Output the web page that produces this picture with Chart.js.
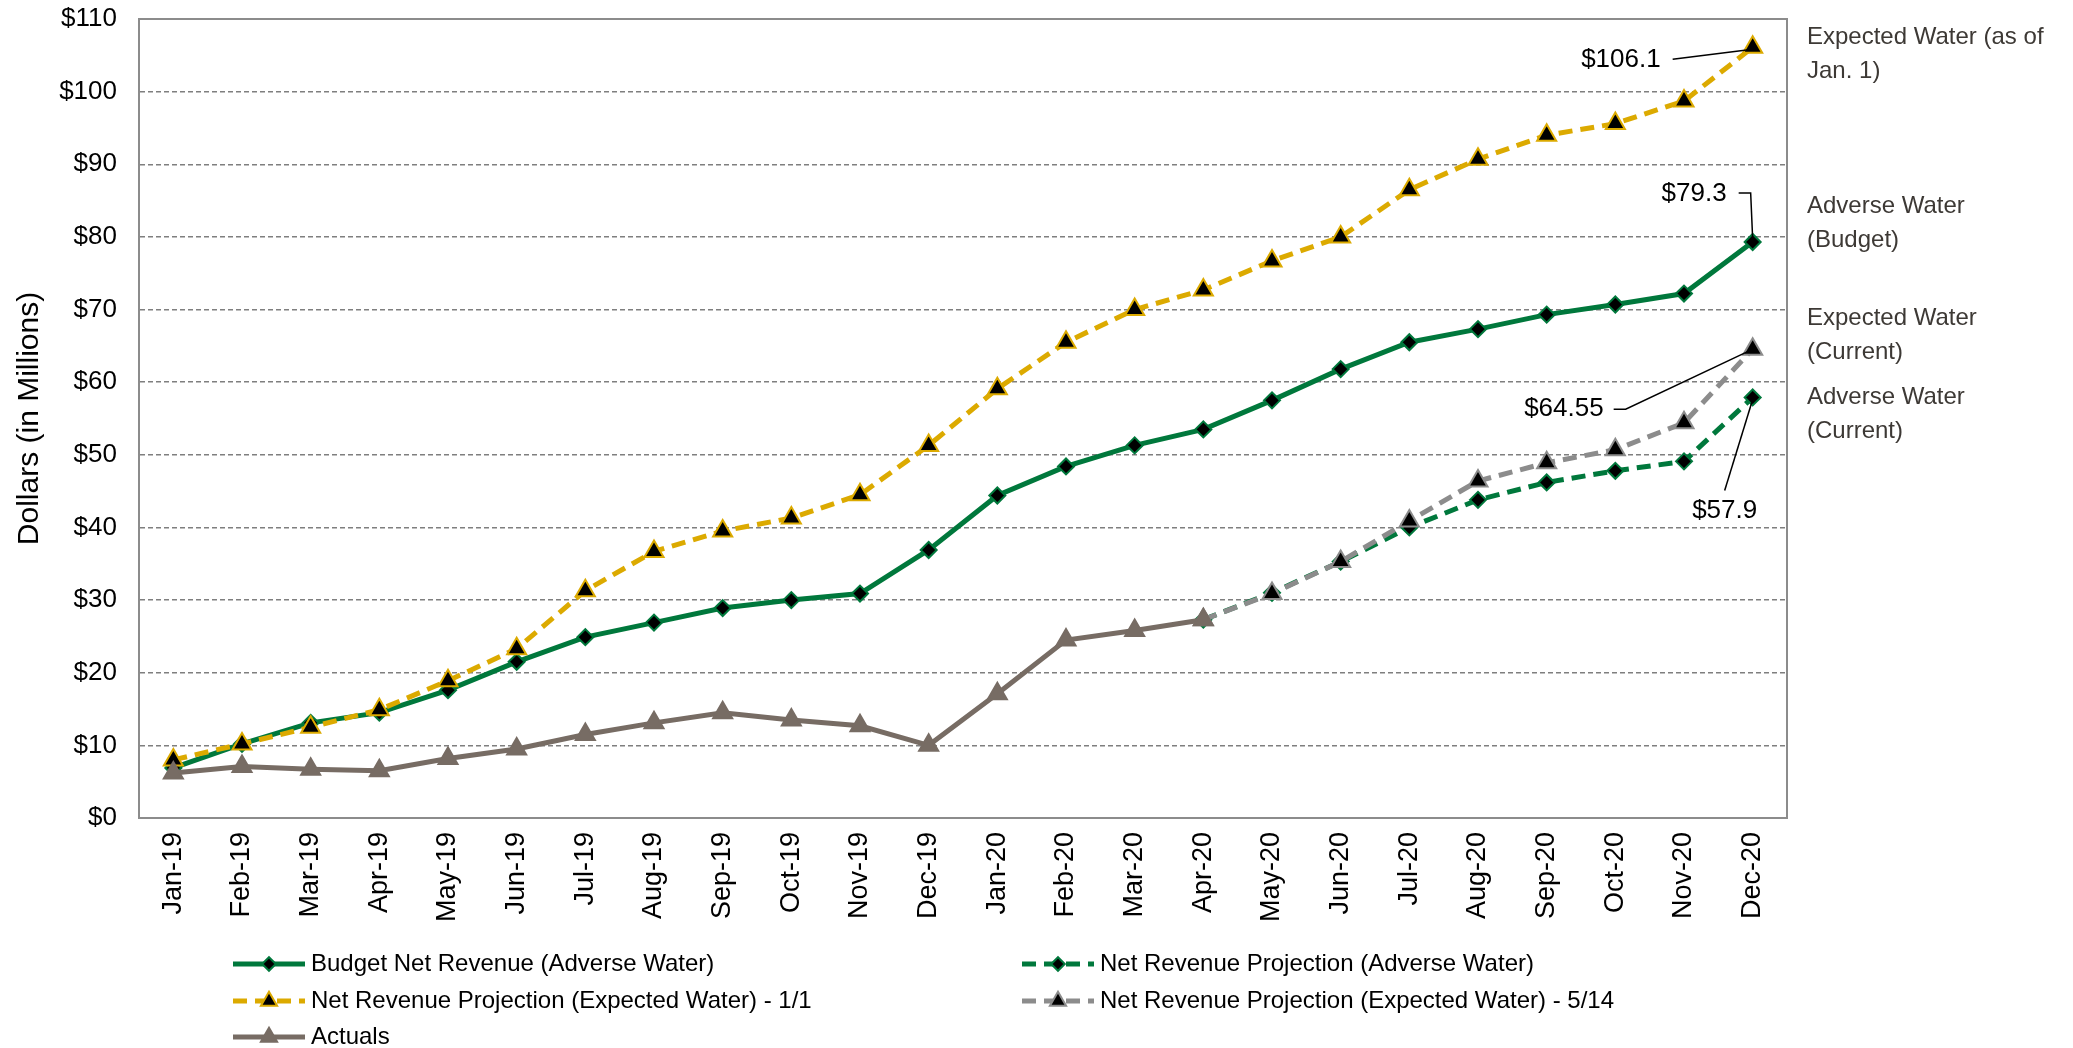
<!DOCTYPE html>
<html>
<head>
<meta charset="utf-8">
<title>Net Revenue</title>
<script src="https://cdn.jsdelivr.net/npm/chart.js@4.4.1/dist/chart.umd.min.js"></script>
<style>
    html, body { margin: 0; padding: 0; background: #fff; }
    #wrap { width: 2073px; height: 1048px; }
</style>
</head>
<body>
<div id="wrap"><canvas id="revenue-chart" width="2073" height="1048"></canvas></div>
<script>
// data (millions of $)
const months = ["Jan-19", "Feb-19", "Mar-19", "Apr-19", "May-19", "Jun-19", "Jul-19", "Aug-19",
    "Sep-19", "Oct-19", "Nov-19", "Dec-19", "Jan-20", "Feb-20", "Mar-20", "Apr-20",
    "May-20", "Jun-20", "Jul-20", "Aug-20", "Sep-20", "Oct-20", "Nov-20", "Dec-20"];

const budgetAdverse = [6.9, 10.2, 13.1, 14.5, 17.6, 21.5, 24.9, 26.9, 28.9, 30.0, 30.9, 36.9,
    44.4, 48.4, 51.3, 53.5, 57.5, 61.8, 65.5, 67.3, 69.3, 70.7, 72.2, 79.3];

const projAdverse = [null, null, null, null, null, null, null, null, null, null, null, null,
    null, null, null, 27.3, 31.0, 35.3, 40.0, 43.8, 46.2, 47.8, 49.1, 57.9];

const projExpectedJan = [8.0, 10.2, 12.5, 14.9, 18.9, 23.3, 31.3, 36.7, 39.5, 41.3, 44.5, 51.3,
    59.1, 65.5, 70.0, 72.7, 76.7, 80.0, 86.5, 90.7, 94.0, 95.6, 98.7, 106.1];

const projExpectedMay = [null, null, null, null, null, null, null, null, null, null, null, null,
    null, null, null, 27.3, 30.9, 35.3, 40.9, 46.4, 48.9, 50.7, 54.4, 64.55];

const actuals = [6.2, 7.1, 6.7, 6.5, 8.2, 9.5, 11.5, 13.1, 14.5, 13.5, 12.7, 10.0,
    17.1, 24.5, 25.8, 27.3, null, null, null, null, null, null, null, null];

const seriesNames = [
    "Budget Net Revenue (Adverse Water)",
    "Net Revenue Projection (Adverse Water)",
    "Net Revenue Projection (Expected Water) - 1/1",
    "Net Revenue Projection (Expected Water) - 5/14",
    "Actuals",
];

const sideNotes = [
    ["Expected Water (as of", "Jan. 1)"],
    ["Adverse Water", "(Budget)"],
    ["Expected Water", "(Current)"],
    ["Adverse Water", "(Current)"],
];

const GREEN = "#00783c";
const GOLD = "#dcaa00";
const BROWN = "#776c64";
const GREY = "#8c8c8c";
const FONT = '"Liberation Sans", Arial, sans-serif';

Chart.defaults.font.family = FONT;

// frame round the plot area
const frame = {
    id: "frame",
    beforeDatasetsDraw(chart) {
        const { ctx, chartArea: a } = chart;
        ctx.save();
        ctx.strokeStyle = GREY;
        ctx.lineWidth = 2;
        ctx.strokeRect(a.left, a.top, a.right - a.left, a.bottom - a.top);
        ctx.restore();
    },
};

// end value callouts + notes on the right
const callouts = {
    id: "callouts",
    afterDatasetsDraw(chart) {
        const ctx = chart.ctx;
        const last = (i) => chart.getDatasetMeta(i).data[months.length - 1];
        const val = (arr) => "$" + arr[arr.length - 1];

        ctx.save();
        ctx.strokeStyle = "#000";
        ctx.lineWidth = 1.5;
        ctx.fillStyle = "#000";
        ctx.font = "26px " + FONT;
        ctx.textBaseline = "middle";

        // $106.1
        let p = last(2);
        ctx.textAlign = "right";
        ctx.fillText(val(projExpectedJan), p.x - 92, p.y + 12);
        ctx.beginPath();
        ctx.moveTo(p.x - 80, p.y + 12);
        ctx.lineTo(p.x, p.y + 2);
        ctx.stroke();

        // $79.3
        p = last(0);
        ctx.fillText(val(budgetAdverse), p.x - 26, p.y - 48);
        ctx.beginPath();
        ctx.moveTo(p.x - 14, p.y - 49);
        ctx.lineTo(p.x - 2, p.y - 49);
        ctx.lineTo(p.x, p.y - 3);
        ctx.stroke();

        // $64.55
        p = last(3);
        ctx.fillText(val(projExpectedMay), p.x - 149, p.y + 60);
        ctx.beginPath();
        ctx.moveTo(p.x - 139, p.y + 60);
        ctx.lineTo(p.x - 127, p.y + 60);
        ctx.lineTo(p.x - 4, p.y + 2);
        ctx.stroke();

        // $57.9
        p = last(1);
        ctx.textAlign = "center";
        ctx.fillText(val(projAdverse), p.x - 28, p.y + 113);
        ctx.beginPath();
        ctx.moveTo(p.x - 28, p.y + 93);
        ctx.lineTo(p.x, p.y + 2);
        ctx.stroke();

        // notes
        const noteY = [37, 206, 318, 397];
        ctx.textAlign = "left";
        ctx.fillStyle = "#3d3935";
        ctx.font = "24px " + FONT;
        const x = chart.chartArea.right + 20;
        sideNotes.forEach((lines, i) => {
            lines.forEach((t, j) => ctx.fillText(t, x, noteY[i] + j * 34));
        });
        ctx.restore();
    },
};

// legend in two columns at the bottom
const legend2col = {
    id: "legend2col",
    afterDraw(chart) {
        const ctx = chart.ctx;
        const colX = [311, 1100];
        const rowY = [964, 1001, 1037];
        chart.data.datasets.forEach((ds, i) => {
            const tx = colX[i % 2];
            const ty = rowY[Math.floor(i / 2)];
            ctx.save();
            ctx.strokeStyle = ds.borderColor;
            ctx.lineWidth = ds.borderWidth;
            ctx.setLineDash(ds.borderDash || []);
            ctx.beginPath();
            ctx.moveTo(tx - 78, ty);
            ctx.lineTo(tx - 6, ty);
            ctx.stroke();
            ctx.setLineDash([]);
            ctx.fillStyle = ds.pointBackgroundColor;
            ctx.strokeStyle = ds.pointBorderColor;
            ctx.lineWidth = 2;
            Chart.helpers.drawPoint(ctx, {
                pointStyle: ds.pointStyle,
                radius: ds.pointRadius * 0.85,
                borderWidth: 2,
                rotation: 0,
            }, tx - 42, ty);
            ctx.fillStyle = "#000";
            ctx.font = "24px " + FONT;
            ctx.textAlign = "left";
            ctx.textBaseline = "middle";
            ctx.fillText(seriesNames[i], tx, ty);
            ctx.restore();
        });
    },
};

function lineSet(idx, data, color, dashed, style, fill, order) {
    return {
        label: seriesNames[idx],
        data: data,
        borderColor: color,
        borderWidth: 5,
        borderDash: dashed ? [14, 8] : [],
        tension: 0,
        spanGaps: false,
        pointStyle: style,
        pointRadius: style === "triangle" ? 11 : 8,
        pointBackgroundColor: fill,
        pointBorderColor: color,
        pointBorderWidth: 2,
        order: order,
    };
}

const ctx = document.getElementById("revenue-chart").getContext("2d");
new Chart(ctx, {
    type: "line",
    data: {
        labels: months,
        datasets: [
            lineSet(0, budgetAdverse, GREEN, false, "rectRot", "#000", 5),
            lineSet(1, projAdverse, GREEN, true, "rectRot", "#000", 4),
            lineSet(2, projExpectedJan, GOLD, true, "triangle", "#000", 2),
            lineSet(3, projExpectedMay, GREY, true, "triangle", "#000", 3),
            lineSet(4, actuals, BROWN, false, "triangle", BROWN, 1),
        ],
    },
    options: {
        responsive: false,
        animation: false,
        devicePixelRatio: 1,
        layout: { padding: { top: 19, right: 286, left: 0, bottom: 0 } },
        plugins: {
            legend: { display: false },
            tooltip: { enabled: false },
        },
        scales: {
            x: {
                offset: true,
                grid: { display: false, drawTicks: false },
                border: { color: GREY, width: 2 },
                ticks: {
                    autoSkip: false,
                    minRotation: 90,
                    maxRotation: 90,
                    padding: 14,
                    color: "#000",
                    font: { size: 27 },
                },
                afterFit: (s) => { s.height = 230; },
            },
            y: {
                min: 0,
                max: 110,
                ticks: {
                    stepSize: 10,
                    padding: 22,
                    color: "#000",
                    font: { size: 26 },
                    callback: (v) => "$" + v,
                },
                grid: { color: "#7f7f7f", lineWidth: 1.5, drawTicks: false },
                border: { color: GREY, width: 2, dash: [5, 3] },
                title: {
                    display: true,
                    text: "Dollars (in Millions)",
                    color: "#000",
                    font: { size: 30 },
                    padding: { top: 12, bottom: 0 },
                },
                afterFit: (s) => {
                    s.width = 139;
                    s.paddingTop = 0;
                    s.paddingBottom = 0;
                },
            },
        },
    },
    plugins: [frame, callouts, legend2col],
});
</script>
</body>
</html>
